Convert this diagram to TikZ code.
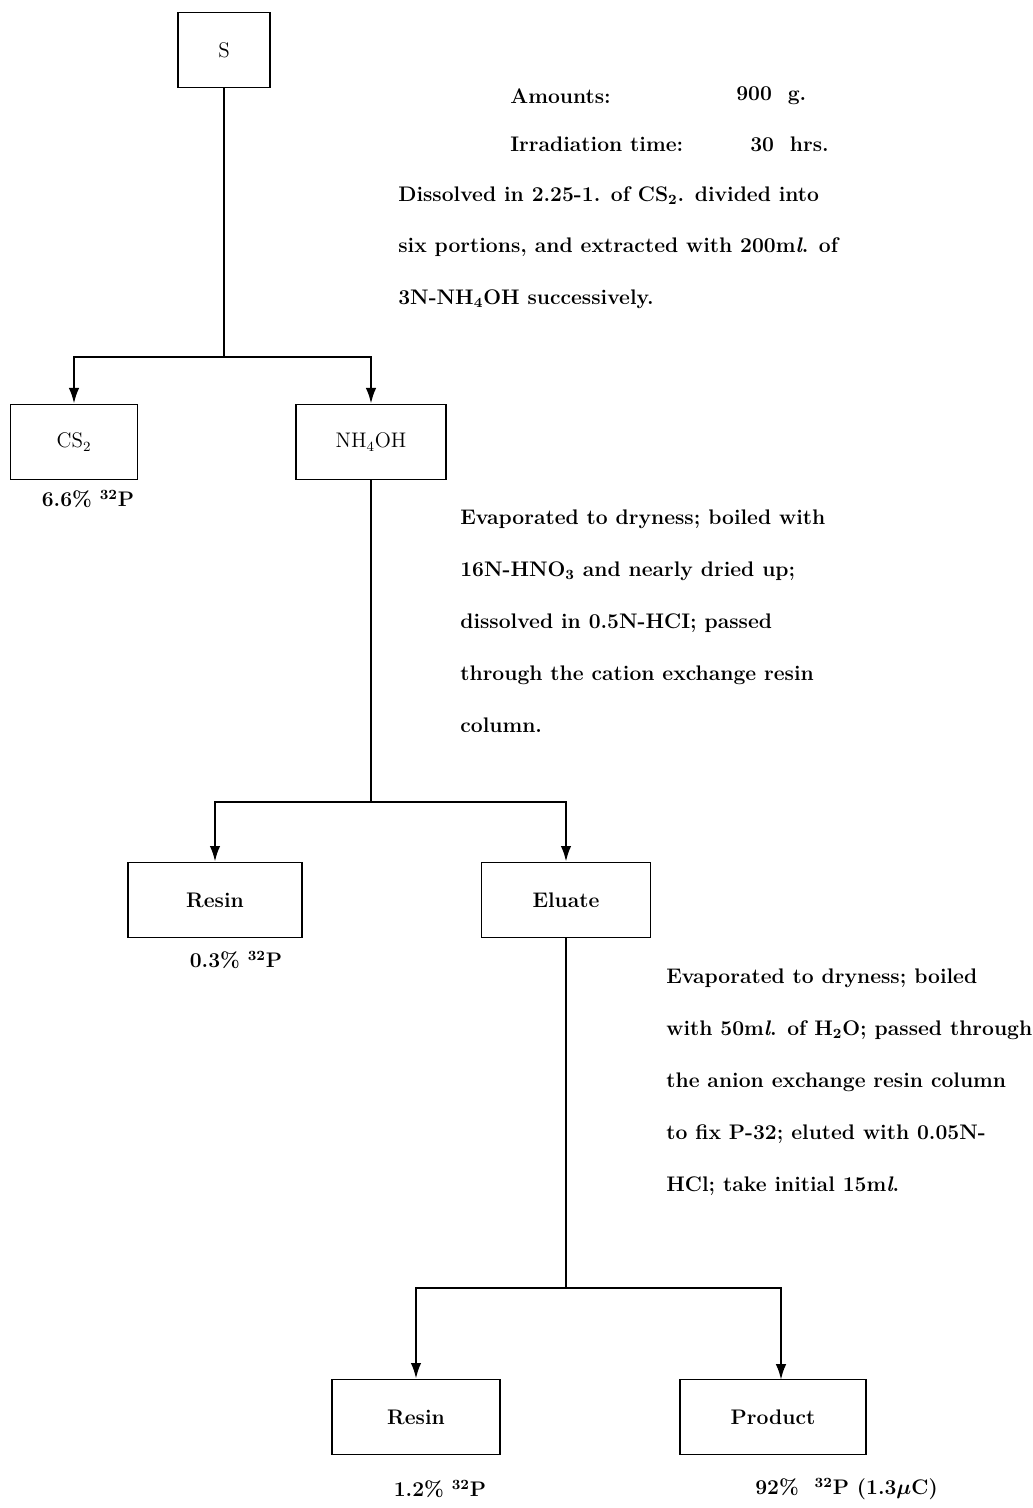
\documentclass[tikz,border=0pt]{standalone}
\usetikzlibrary{arrows.meta}

\begin{document}
\begin{tikzpicture}[x=0.02cm,y=-0.02cm,
    box/.style={draw,line width=0.8pt,minimum height=1.5cm,inner sep=0pt,font=\fontsize{12}{14}\selectfont},
    flow/.style={line width=1.4pt},
    arr/.style={line width=1.4pt,-{Latex[length=9pt,width=6pt]}},
    note/.style={anchor=north west,align=left,inner sep=0pt,font=\fontsize{12}{29.5}\selectfont\bfseries},
    lbl/.style={inner sep=0pt,font=\fontsize{12}{14}\selectfont\bfseries}]
        \useasboundingbox (0,0) rectangle (1033,1508);
        \node[box,minimum width=1.84cm] (s) at (224,50) {S};
        \node[box,minimum width=2.54cm] (cs) at (74,442) {CS\textsubscript{2}};
        \node[box,minimum width=3.0cm] (nh) at (371,442) {NH\textsubscript{4}OH};
        \node[box,minimum width=3.48cm,font=\fontsize{12}{14}\selectfont\bfseries] (resa) at (215,900) {Resin};
        \node[box,minimum width=3.38cm,font=\fontsize{12}{14}\selectfont\bfseries] (elu) at (566,900) {Eluate};
        \node[box,minimum width=3.36cm,font=\fontsize{12}{14}\selectfont\bfseries] (resb) at (416,1417) {Resin};
        \node[box,minimum width=3.72cm,font=\fontsize{12}{14}\selectfont\bfseries] (prod) at (773,1417) {Product};
        \coordinate (j1) at (224,357);
        \coordinate (j2) at (371,802);
        \coordinate (j3) at (566,1288);
        \coordinate (pin) at (781,1380);
        \draw[flow] (s.south) -- (j1);
        \draw[arr] (j1) -| (cs.north);
        \draw[arr] (j1) -| (nh.north);
        \draw[flow] (nh.south) -- (j2);
        \draw[arr] (j2) -| (resa.north);
        \draw[arr] (j2) -| (elu.north);
        \draw[flow] (elu.south) -- (j3);
        \draw[arr] (j3) -| (resb.north);
        \draw[arr] (j3) -| (pin);
        \node[lbl] (pcs) at (88,499) {6.6\% \textsuperscript{32}P};
        \node[lbl] (presa) at (236,960) {0.3\% \textsuperscript{32}P};
        \node[lbl] (presb) at (440,1489) {1.2\% \textsuperscript{32}P};
        \node[lbl,anchor=west] (pprod) at (755,1489) {92\%\ \ \textsuperscript{32}P (1.3{\boldmath$\mu$}C)};
        \node[lbl,anchor=west] (amt) at (510,96) {Amounts:};
        \node[lbl,anchor=west] (amtv) at (736,96) {900\ \ g.};
        \node[lbl,anchor=west] (irr) at (510,144) {Irradiation time:};
        \node[lbl,anchor=west] (irrv) at (750,144) {30\ \ hrs.};
        \node[note] (t1) at (398,186) {Dissolved in 2.25-1. of CS\textsubscript{2}. divided into\\
            six portions, and extracted with 200m\textit{l}. of\\
            3N-NH\textsubscript{4}OH successively.};
        \node[note] (t2) at (460,510) {Evaporated to dryness; boiled with\\
            16N-HNO\textsubscript{3} and nearly dried up;\\
            dissolved in 0.5N-HCI; passed\\
            through the cation exchange resin\\
            column.};
        \node[note] (t3) at (666,969) {Evaporated to dryness; boiled\\
            with 50m\textit{l}. of H\textsubscript{2}O; passed through\\
            the anion exchange resin column\\
            to fix P-32; eluted with 0.05N-\\
            HCl; take initial 15m\textit{l}.};
    \end{tikzpicture}
\end{document}
